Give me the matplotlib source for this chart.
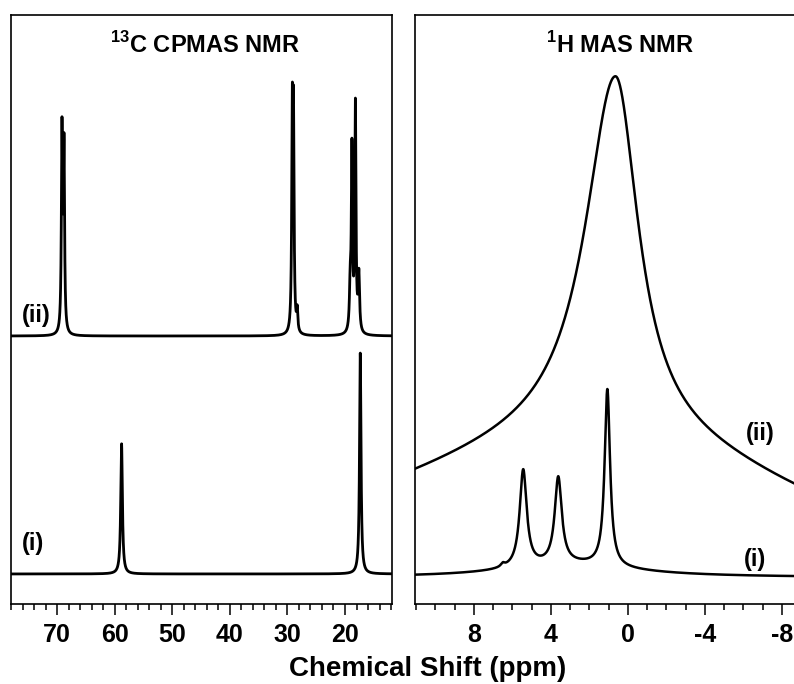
import numpy as np
import matplotlib.pyplot as plt
from matplotlib.ticker import MultipleLocator

plt.rcParams['font.family'] = ['Liberation Sans', 'DejaVu Sans']
plt.rcParams['font.weight'] = 'bold'
plt.rcParams['mathtext.fontset'] = 'custom'
plt.rcParams['mathtext.rm'] = 'Liberation Sans:bold'
plt.rcParams['mathtext.bf'] = 'Liberation Sans:bold'
plt.rcParams['axes.unicode_minus'] = False

# intensities in arbitrary units, 0 = bottom of the frame, 100 = top
# 13C CPMAS, trace (i)
c13_i_base = 5.1
c13_i_ppm = [58.8, 17.35]
c13_i_top = [22.1, 37.5]          # apparent height above baseline
c13_i_hw = [0.17, 0.15]           # half width at half height (ppm)

# 13C CPMAS, trace (ii)
c13_ii_base = 45.5
c13_ii_ppm = [69.15, 68.8, 29.15, 28.95, 28.3, 19.1, 18.8, 18.2, 17.6]
c13_ii_top = [37.2, 34.5, 42.6, 42.1, 5.3, 12.2, 33.6, 40.4, 11.5]
c13_ii_hw = [0.12, 0.12, 0.12, 0.12, 0.12, 0.15, 0.12, 0.12, 0.15]

# 1H MAS, trace (i)
h1_i_base = 4.5
h1_i_ppm = [6.5, 5.44, 3.62, 1.07]
h1_i_top = [2.6, 18.4, 17.2, 32.0]
h1_i_hw = [0.12, 0.22, 0.22, 0.17]
h1_i_hump = (3.0, 2.2, 4.0)       # broad background: centre, height, half width

# 1H MAS, trace (ii): one broad, asymmetric line
h1_ii_centre = 0.65
h1_ii_heights = [61.6, 28.0]      # narrow and wide parts
h1_ii_hw_left = [1.9, 18.0]       # towards high ppm
h1_ii_hw_right = [1.45, 13.5]     # towards low ppm


def lorentz(x, c, hw):
    return 1.0 / (1.0 + ((x - c) / hw) ** 2)


def spectrum(x, ppm, top, hw, base, bg=None):
    ppm = np.asarray(ppm, float)
    top = np.asarray(top, float)
    hw = np.asarray(hw, float)
    bgx = np.zeros_like(x) if bg is None else bg(x)
    bgc = np.zeros_like(ppm) if bg is None else bg(ppm)
    m = lorentz(ppm[:, None], ppm[None, :], hw[None, :])
    amp = np.linalg.solve(m, top - bgc)
    y = base + bgx
    for a, c, w in zip(amp, ppm, hw):
        y = y + a * lorentz(x, c, w)
    return y


fig = plt.figure(figsize=(7.94, 6.84), dpi=100)
ax1 = fig.add_axes([11 / 794, 1 - 604 / 684, 381 / 794, 589 / 684])
ax2 = fig.add_axes([415 / 794, 1 - 604 / 684, 382 / 794, 589 / 684])

# left panel
x1 = np.linspace(78, 11.8, 30000)
ax1.plot(x1, spectrum(x1, c13_ii_ppm, c13_ii_top, c13_ii_hw, c13_ii_base),
         color='black', lw=2.0)
ax1.plot(x1, spectrum(x1, c13_i_ppm, c13_i_top, c13_i_hw, c13_i_base),
         color='black', lw=2.0)
ax1.set_xlim(78, 11.84)
ax1.xaxis.set_major_locator(MultipleLocator(10))
ax1.xaxis.set_minor_locator(MultipleLocator(2))
ax1.text(0.065, 0.49, '(ii)', transform=ax1.transAxes, ha='center', va='center',
         fontsize=17, fontweight='bold')
ax1.text(0.058, 0.103, '(i)', transform=ax1.transAxes, ha='center', va='center',
         fontsize=17, fontweight='bold')
ax1.text(0.51, 0.95, r'$^{\mathbf{13}}$C CPMAS NMR', transform=ax1.transAxes,
         ha='center', va='center', fontsize=17, fontweight='bold')

# right panel
x2 = np.linspace(11.1, -8.8, 20000)
hc, hh, hwh = h1_i_hump
hump = lambda x: hh * lorentz(x, hc, hwh)
ax2.plot(x2, spectrum(x2, h1_i_ppm, h1_i_top, h1_i_hw, h1_i_base, bg=hump),
         color='black', lw=1.8)
hw_side = [np.where(x2 > h1_ii_centre, l, r)
           for l, r in zip(h1_ii_hw_left, h1_ii_hw_right)]
y_ii = sum(h * lorentz(x2, h1_ii_centre, w) for h, w in zip(h1_ii_heights, hw_side))
ax2.plot(x2, y_ii, color='black', lw=1.8)
ax2.set_xlim(11.06, -8.78)
ax2.xaxis.set_major_locator(MultipleLocator(4))
ax2.xaxis.set_minor_locator(MultipleLocator(1))
ax2.text(0.905, 0.29, '(ii)', transform=ax2.transAxes, ha='center', va='center',
         fontsize=17, fontweight='bold')
ax2.text(0.89, 0.075, '(i)', transform=ax2.transAxes, ha='center', va='center',
         fontsize=17, fontweight='bold')
ax2.text(0.537, 0.95, r'$^{\mathbf{1}}$H MAS NMR', transform=ax2.transAxes,
         ha='center', va='center', fontsize=17, fontweight='bold')

for ax in (ax1, ax2):
    ax.set_ylim(0, 100)
    ax.set_yticks([])
    for s in ax.spines.values():
        s.set_linewidth(1.2)
    ax.tick_params(axis='x', which='major', direction='out', length=8, width=1.1,
                   labelsize=18, pad=6)
    ax.tick_params(axis='x', which='minor', direction='out', length=4.5, width=1.1)
    for lab in ax.get_xticklabels():
        lab.set_fontweight('bold')
ax2.spines['right'].set_visible(False)

fig.text(428 / 794, 1 - 669 / 684, 'Chemical Shift (ppm)', ha='center', va='center',
         fontsize=20, fontweight='bold')

fig.savefig('out.png', dpi=100)
